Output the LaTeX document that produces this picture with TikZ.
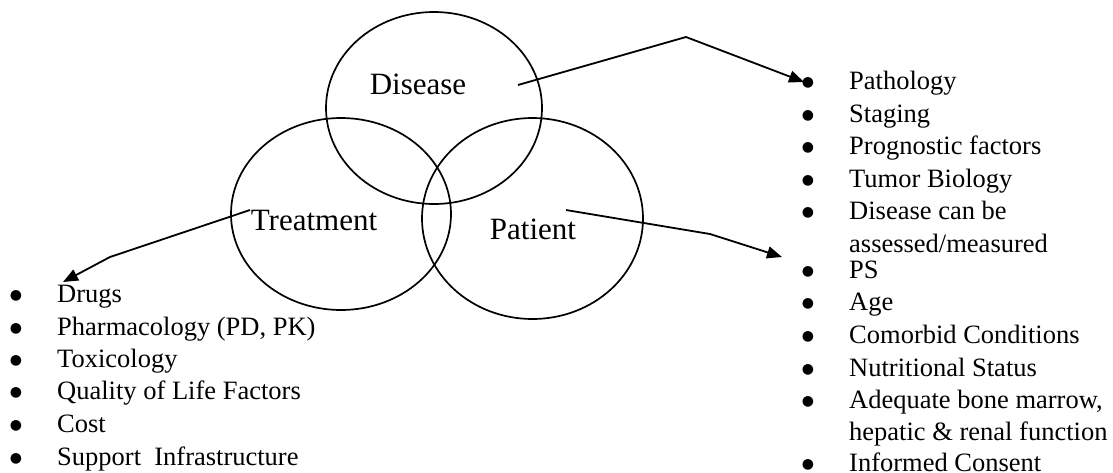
\documentclass[tikz,border=0pt]{standalone}
\usepackage{fontspec}
\setmainfont{Liberation Serif}
\newfontfamily\bulfont{DejaVu Sans}
\usetikzlibrary{arrows.meta}
\begin{document}
\begin{tikzpicture}[x=1pt,y=-1pt,
  ring/.style={draw=black,line width=1.7pt},
  lab/.style={inner sep=0pt,anchor=base,font=\fontsize{31}{37}\selectfont},
  item/.style={inner sep=0pt,anchor=base west,font=\fontsize{26.5}{32}\selectfont},
  bul/.style={inner sep=0pt,anchor=base,yshift=2.5pt,font=\bulfont\fontsize{14}{16}\selectfont},
  conn/.style={draw=black,line width=1.8pt,-{Triangle[length=15pt,width=12pt]}}]
\useasboundingbox (0,0) rectangle (1113,472);
% circles
\draw[ring] (434,108) ellipse [x radius=108,y radius=96];
\draw[ring] (341,214) ellipse [x radius=110,y radius=96];
\draw[ring] (532.5,218.5) ellipse [x radius=110.5,y radius=100.5];
% labels
\node[lab] (dis) at (418,94) {Disease};
\node[lab] (trt) at (314,230) {Treatment};
\node[lab] (pat) at (533,239) {Patient};
% right upper list
\node[bul] (b1) at (808,89) {●};  \node[item] (r1) at (849,89) {Pathology};
\node[bul] (b2) at (808,122) {●}; \node[item] (r2) at (849,122) {Staging};
\node[bul] (b3) at (808,154) {●}; \node[item] (r3) at (849,154) {Prognostic factors};
\node[bul] (b4) at (808,187) {●}; \node[item] (r4) at (849,187) {Tumor Biology};
\node[bul] (b5) at (808,219) {●}; \node[item] (r5) at (849,219) {Disease can be};
\node[item] (r5b) at (849,252) {assessed/measured};
% right lower list
\node[bul] (p1) at (808,278) {●}; \node[item] (q1) at (849,278) {PS};
\node[bul] (p2) at (808,310) {●}; \node[item] (q2) at (849,310) {Age};
\node[bul] (p3) at (808,343) {●}; \node[item] (q3) at (849,343) {Comorbid Conditions};
\node[bul] (p4) at (808,376) {●}; \node[item] (q4) at (849,376) {Nutritional Status};
\node[bul] (p5) at (808,408) {●}; \node[item] (q5) at (849,408) {Adequate bone marrow,};
\node[item] (q5b) at (849,440) {hepatic \& renal function};
\node[bul] (p6) at (808,471) {●}; \node[item] (q6) at (849,471) {Informed Consent};
% left list
\node[bul] (l1) at (16,302) {●}; \node[item] (t1) at (57,302) {Drugs};
\node[bul] (l2) at (16,335) {●}; \node[item] (t2) at (57,335) {Pharmacology (PD, PK)};
\node[bul] (l3) at (16,367) {●}; \node[item] (t3) at (57,367) {Toxicology};
\node[bul] (l4) at (16,399) {●}; \node[item] (t4) at (57,399) {Quality of Life Factors};
\node[bul] (l5) at (16,432) {●}; \node[item] (t5) at (57,432) {Cost};
\node[bul] (l6) at (16,465) {●}; \node[item] (t6) at (57,465) {Support\ \ Infrastructure};
% connectors
\coordinate (ds) at (518,85);  \coordinate (dk) at (686,37);  \coordinate (dt) at (804,82);
\coordinate (ps) at (566,210); \coordinate (pk) at (710,234); \coordinate (pt) at (782,257);
\coordinate (ts) at (250,210); \coordinate (tk) at (110,257); \coordinate (tt) at (63,282);
\draw[conn] (ds) -- (dk) -- (dt);
\draw[conn] (ps) -- (pk) -- (pt);
\draw[conn] (ts) -- (tk) -- (tt);
\end{tikzpicture}
\end{document}
